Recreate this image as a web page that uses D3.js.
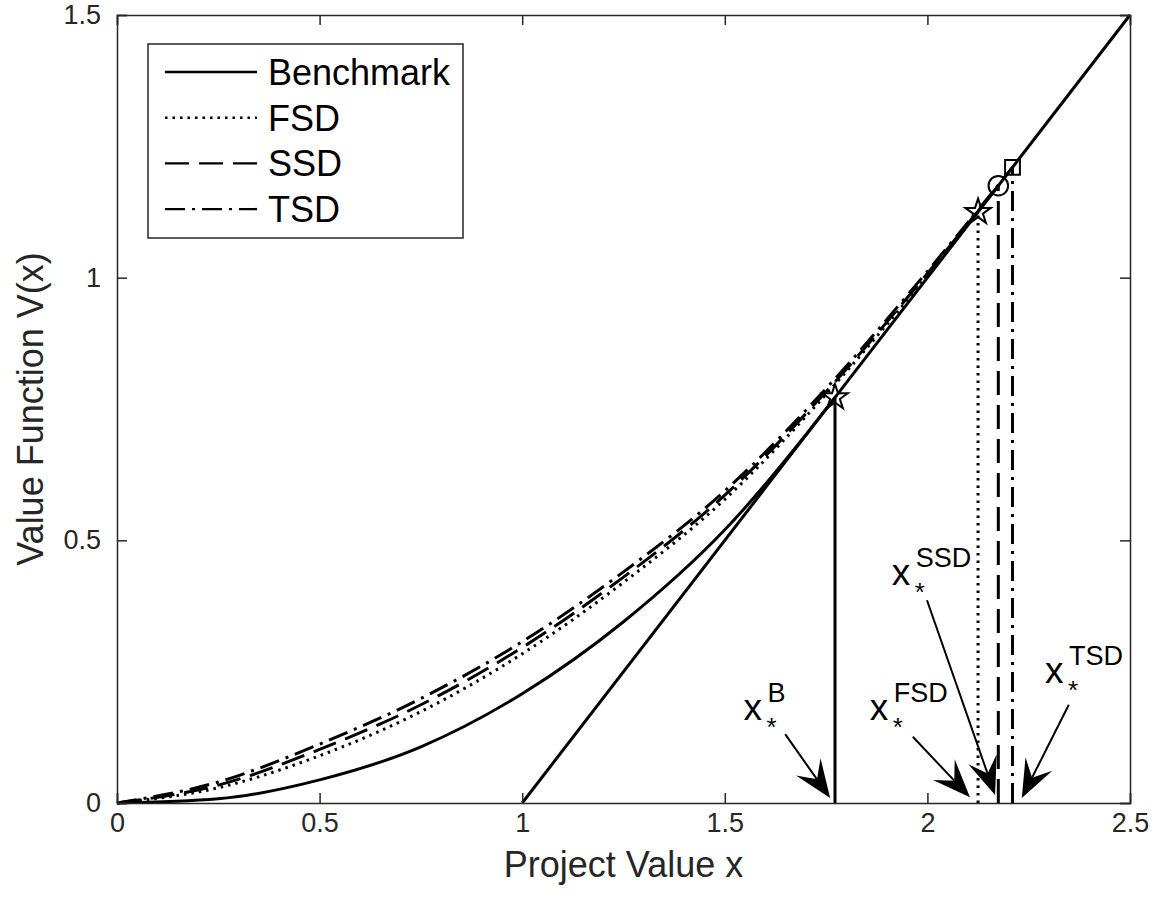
<!DOCTYPE html>
<html>
<head>
<meta charset="utf-8">
<script src="https://cdn.jsdelivr.net/npm/d3@7"></script>
<style>
  body { margin: 0; background: #fff; }
  text { font-family: "Liberation Sans", Arial, Helvetica, sans-serif; }
</style>
</head>
<body>
<script>
// values
var xGrid = [0, 0.25, 0.5, 0.75, 1, 1.25, 1.5, 1.75];
var benchVals = [0, 0.008, 0.044, 0.107, 0.208, 0.345, 0.52, 0.75];
var fsdX = [0, 0.25, 0.5, 0.75, 1, 1.25, 1.5, 1.75, 2];
var fsdVals = [0, 0.029, 0.09, 0.174, 0.284, 0.42, 0.578, 0.778, 1.004];
var ssdVals = [0, 0.034, 0.102, 0.187, 0.296, 0.43, 0.586, 0.783, 1.008];
var tsdVals = [0, 0.040, 0.112, 0.199, 0.307, 0.44, 0.594, 0.789, 1.012];

// thresholds x* and V(x*) = x* - 1
var thresholds = [
  {name: "B",   x: 1.772, v: 0.772, marker: "star"},
  {name: "FSD", x: 2.125, v: 1.125, marker: "star"},
  {name: "SSD", x: 2.175, v: 1.175, marker: "circle"},
  {name: "TSD", x: 2.21,  v: 1.21,  marker: "square"}
];
// payoff line x - 1
var payoffLine = [[1, 0], [2.5, 1.5]];

// annotation labels and arrows (data units)
var labels = [
  {sup: "B",   x: 1.546, y: 0.158, tail: [1.649, 0.131], head: [1.760, 0.0095]},
  {sup: "FSD", x: 1.858, y: 0.158, tail: [1.964, 0.126], head: [2.105, 0.011]},
  {sup: "SSD", x: 1.912, y: 0.415, tail: [1.999, 0.386], head: [2.167, 0.015]},
  {sup: "TSD", x: 2.290, y: 0.228, tail: [2.349, 0.187], head: [2.233, 0.0095]}
];

var xTicks = [0, 0.5, 1, 1.5, 2, 2.5];
var yTicks = [0, 0.5, 1, 1.5];

var margin = {top: 15, right: 24, bottom: 100, left: 117};
var W = 1154, H = 903;
var width = W - margin.left - margin.right;
var height = H - margin.top - margin.bottom;

var styles = {
  Benchmark: "none",
  FSD: "2.5,5",
  SSD: "24,10",
  TSD: "20,7,3,7"
};

var svg = d3.select("body").append("svg")
    .attr("width", W)
    .attr("height", H);

var g = svg.append("g")
    .attr("transform", "translate(" + margin.left + "," + margin.top + ")");

var x = d3.scaleLinear().domain([0, 2.5]).range([0, width]);
var y = d3.scaleLinear().domain([0, 1.5]).range([height, 0]);

var line = d3.line()
    .x(function(d) { return x(d[0]); })
    .y(function(d) { return y(d[1]); })
    .curve(d3.curveMonotoneX);

function series(xs, vs, t) {
  var pts = xs.map(function(d, i) { return [d, vs[i]]; })
    .filter(function(d) { return d[0] < t.x; });
  pts.push([t.x, t.v]);
  return pts;
}

var curves = [
  {key: "Benchmark", pts: series(xGrid, benchVals, thresholds[0]), t: thresholds[0]},
  {key: "FSD", pts: series(fsdX, fsdVals, thresholds[1]), t: thresholds[1]},
  {key: "SSD", pts: series(fsdX, ssdVals, thresholds[2]), t: thresholds[2]},
  {key: "TSD", pts: series(fsdX, tsdVals, thresholds[3]), t: thresholds[3]}
];

var lw = 3;

// curves
curves.forEach(function(c) {
  g.append("path")
    .datum(c.pts)
    .attr("fill", "none")
    .attr("stroke", "#000")
    .attr("stroke-width", lw)
    .attr("stroke-dasharray", styles[c.key])
    .attr("d", line);
  // vertical line at threshold
  g.append("line")
    .attr("x1", x(c.t.x)).attr("x2", x(c.t.x))
    .attr("y1", y(0)).attr("y2", y(c.t.v))
    .attr("stroke", "#000")
    .attr("stroke-width", lw)
    .attr("stroke-dasharray", styles[c.key]);
});

// payoff line
g.append("path")
  .datum(payoffLine)
  .attr("fill", "none")
  .attr("stroke", "#000")
  .attr("stroke-width", lw)
  .attr("d", d3.line().x(function(d) { return x(d[0]); }).y(function(d) { return y(d[1]); }));

// markers
var star = d3.symbol().type(d3.symbolStar).size(200);
var circ = d3.symbol().type(d3.symbolCircle).size(300);
var sq = d3.symbol().type(d3.symbolSquare).size(220);
thresholds.forEach(function(t) {
  var sym = t.marker === "star" ? star : (t.marker === "circle" ? circ : sq);
  g.append("path")
    .attr("d", sym())
    .attr("transform", "translate(" + x(t.x) + "," + y(t.v) + ")")
    .attr("fill", "none")
    .attr("stroke", "#000")
    .attr("stroke-width", 2);
});

// axes (MATLAB box with inward ticks)
var axColor = "#262626";
var fmt = d3.format("");
var xAxis = g.append("g")
  .attr("transform", "translate(0," + height + ")")
  .call(d3.axisBottom(x).tickValues(xTicks).tickFormat(fmt).tickSize(-10).tickPadding(10));
var xTop = g.append("g")
  .call(d3.axisTop(x).tickValues(xTicks).tickFormat("").tickSize(-10));
var yAxis = g.append("g")
  .call(d3.axisLeft(y).tickValues(yTicks).tickFormat(fmt).tickSize(-10).tickPadding(16));
var yRight = g.append("g")
  .attr("transform", "translate(" + width + ",0)")
  .call(d3.axisRight(y).tickValues(yTicks).tickFormat("").tickSize(-10));

[xAxis, xTop, yAxis, yRight].forEach(function(a) {
  a.select(".domain").attr("stroke", axColor).attr("stroke-width", 1.5);
  a.selectAll(".tick line").attr("stroke", axColor).attr("stroke-width", 1.5);
  a.selectAll(".tick text")
    .attr("fill", axColor)
    .style("font-size", "27px")
    .style("font-family", "'Liberation Sans', Arial, sans-serif");
});

// axis labels
g.append("text")
  .attr("x", width / 2)
  .attr("y", height + 74)
  .attr("text-anchor", "middle")
  .attr("fill", axColor)
  .style("font-size", "36px")
  .text("Project Value x");

g.append("text")
  .attr("transform", "translate(" + (-74) + "," + (height / 2) + ") rotate(-90)")
  .attr("text-anchor", "middle")
  .attr("fill", axColor)
  .style("font-size", "36px")
  .text("Value Function V(x)");

// annotations: x_*^label with arrows
function arrow(tail, head) {
  var x0 = x(tail[0]), y0 = y(tail[1]);
  var x1 = x(head[0]), y1 = y(head[1]);
  var dx = x1 - x0, dy = y1 - y0, len = Math.sqrt(dx * dx + dy * dy);
  var ux = dx / len, uy = dy / len, px = -uy, py = ux;
  var L = 38, hw = 15, notch = 0.6 * L;
  g.append("line")
    .attr("x1", x0).attr("y1", y0)
    .attr("x2", x1 - ux * notch).attr("y2", y1 - uy * notch)
    .attr("stroke", "#000").attr("stroke-width", 2);
  var pts = [
    [x1, y1],
    [x1 - ux * L + px * hw, y1 - uy * L + py * hw],
    [x1 - ux * notch, y1 - uy * notch],
    [x1 - ux * L - px * hw, y1 - uy * L - py * hw]
  ];
  g.append("path")
    .attr("d", "M" + pts.join("L") + "Z")
    .attr("fill", "#000");
}

labels.forEach(function(l) {
  var tx = x(l.x), ty = y(l.y);
  g.append("text").attr("x", tx).attr("y", ty)
    .style("font-size", "37px").text("x");
  g.append("text").attr("x", tx + 23).attr("y", ty + 16)
    .style("font-size", "26px").text("*");
  g.append("text").attr("x", tx + 24).attr("y", ty - 18)
    .style("font-size", "27px").text(l.sup);
  arrow(l.tail, l.head);
});

// legend
var legend = g.append("g").attr("transform", "translate(31,29)");
legend.append("rect")
  .attr("width", 315).attr("height", 194)
  .attr("fill", "#fff")
  .attr("stroke", axColor)
  .attr("stroke-width", 1.5);
var legendKeys = ["Benchmark", "FSD", "SSD", "TSD"];
legendKeys.forEach(function(k, i) {
  var ry = 28 + i * 45.7;
  legend.append("line")
    .attr("x1", 17).attr("x2", 109)
    .attr("y1", ry).attr("y2", ry)
    .attr("stroke", "#000")
    .attr("stroke-width", 2.4)
    .attr("stroke-dasharray", styles[k]);
  legend.append("text")
    .attr("x", 120).attr("y", ry + 13)
    .style("font-size", "36px")
    .text(k);
});
</script>
</body>
</html>
